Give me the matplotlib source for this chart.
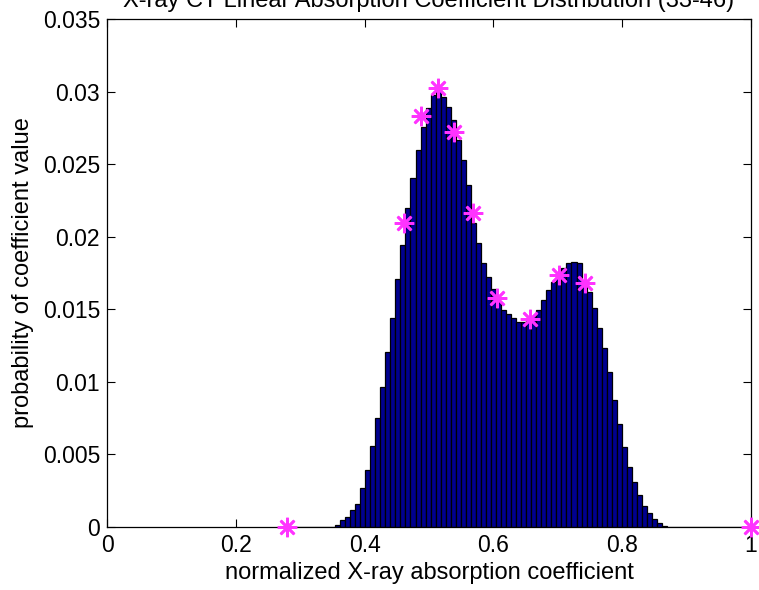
import numpy as np
import matplotlib
matplotlib.use("Agg")
import matplotlib.pyplot as plt

plt.rcParams['font.family'] = ['Liberation Sans', 'DejaVu Sans']

# histogram (bin width 1/128)
bin_w = 1.0 / 128
first_bin = 0.354
prob = [0.00014, 0.00048, 0.00069, 0.00117, 0.00158, 0.00269, 0.00393, 0.00558,
        0.00751, 0.00964, 0.01206, 0.01440, 0.01709, 0.01943, 0.02198, 0.02405,
        0.02598, 0.02756, 0.02887, 0.02977, 0.03011, 0.02963, 0.02894, 0.02805,
        0.02667, 0.02529, 0.02357, 0.02095, 0.01957, 0.01819, 0.01723, 0.01640,
        0.01550, 0.01495, 0.01468, 0.01440, 0.01413, 0.01413, 0.01426, 0.01454,
        0.01495, 0.01564, 0.01633, 0.01688, 0.01736, 0.01785, 0.01819, 0.01826,
        0.01819, 0.01681, 0.01619, 0.01509, 0.01371, 0.01233, 0.01068, 0.00875,
        0.00710, 0.00551, 0.00413, 0.00310, 0.00220, 0.00145, 0.00096, 0.00055,
        0.00028, 0.00010, 0.00003]

# zero bins on either side (drawn as the dark base line)
zero_left = 10
zero_right = 17

# sample points (asterisks)
pts_x = [0.2795, 0.461, 0.4876, 0.514, 0.539, 0.568, 0.6056, 0.657, 0.702, 0.742, 1.0]
pts_y = [0.0, 0.02095, 0.02832, 0.03025, 0.02722, 0.02164, 0.01578, 0.01433,
         0.01736, 0.01681, 0.0]

xticks = [0, 0.2, 0.4, 0.6, 0.8, 1]
xtick_labels = ["0", "0.2", "0.4", "0.6", "0.8", "1"]
yticks = [0, 0.005, 0.01, 0.015, 0.02, 0.025, 0.03, 0.035]
ytick_labels = ["0", "0.005", "0.01", "0.015", "0.02", "0.025", "0.03", "0.035"]

heights = [0.0] * zero_left + prob + [0.0] * zero_right
lefts = first_bin + bin_w * (np.arange(len(heights)) - zero_left)

fig = plt.figure(figsize=(7.59, 5.90), dpi=100)
ax = fig.add_axes([0.141, 0.1068, 0.8485, 0.861])

ax.bar(lefts, heights, width=bin_w, align='edge', color='#00008f',
       edgecolor='black', linewidth=0.9, zorder=2)
ax.plot(pts_x, pts_y, linestyle='none', marker=(8, 2, 0), markersize=14,
        markeredgewidth=1.9, color='#ff33ff', markeredgecolor='#ff33ff',
        zorder=3, clip_on=False)

ax.set_xlim(0, 1)
ax.set_ylim(0, 0.035)
ax.set_xticks(xticks)
ax.set_xticklabels(xtick_labels)
ax.set_yticks(yticks)
ax.set_yticklabels(ytick_labels)
ax.tick_params(direction='in', top=True, right=True, length=6, width=0.8,
               labelsize=16.5, pad=5)
for s in ax.spines.values():
    s.set_linewidth(0.9)

ax.set_xlabel("normalized X-ray absorption coefficient", fontsize=17, labelpad=4)
ax.set_ylabel("probability of coefficient value", fontsize=17, labelpad=6)

# title is clipped at the top edge in the original
fig.text(0.565, 0.988, "X-ray CT Linear Absorption Coefficient Distribution (33-46)",
         ha='center', va='baseline', fontsize=17)

fig.savefig("out.png", dpi=100)
